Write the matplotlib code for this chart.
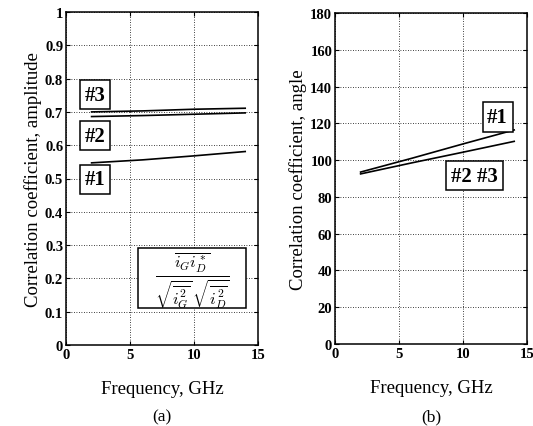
import numpy as np
import matplotlib
matplotlib.use("Agg")
import matplotlib.pyplot as plt
from matplotlib.patches import Rectangle

# panel (a): amplitude of the correlation coefficient
freq = [2, 6, 10, 14]
amp_1 = [0.547, 0.556, 0.568, 0.581]
amp_2 = [0.686, 0.689, 0.693, 0.697]
amp_3 = [0.700, 0.703, 0.708, 0.711]

# panel (b): angle of the correlation coefficient
ang_1 = [93.5, 101.0, 108.8, 116.4]
ang_23 = [92.5, 98.5, 104.3, 110.2]

plt.rcParams['font.family'] = ['Liberation Serif', 'DejaVu Serif']
plt.rcParams['mathtext.fontset'] = 'cm'

fig = plt.figure(figsize=(5.33, 4.27), dpi=100)
W, H = 533.0, 427.0
ax1 = fig.add_axes([66/W, 1-346/H, 192/W, 333/H])
ax2 = fig.add_axes([335/W, 1-345/H, 192/W, 331/H])


def style(ax, ymax, ystep, labels=None):
    ax.set_xlim(0, 15)
    ax.set_ylim(0, ymax)
    ax.set_xticks([0, 5, 10, 15])
    ax.set_yticks(np.arange(0, ymax + ystep/2, ystep))
    if labels is not None:
        ax.set_yticklabels(labels)
    ax.grid(True, color='black', linestyle=(0, (1, 2)), linewidth=0.6)
    ax.tick_params(direction='in', top=True, right=True, length=3, width=0.8,
                   labelsize=10.5, pad=2)
    for lab in ax.get_xticklabels() + ax.get_yticklabels():
        lab.set_fontweight('bold')
    for s in ax.spines.values():
        s.set_linewidth(1.1)
    ax.set_xlabel("Frequency, GHz", fontsize=13.5, labelpad=14)


box = dict(boxstyle='square,pad=0.22', fc='white', ec='black', lw=1.1)
tag = dict(fontsize=15, fontweight='bold', ha='center', va='center', bbox=box)

style(ax1, 1.0, 0.1, ['0', '0.1', '0.2', '0.3', '0.4', '0.5', '0.6', '0.7', '0.8', '0.9', '1'])
ax1.plot(freq, amp_1, color='black', lw=1.2)
ax1.plot(freq, amp_2, color='black', lw=1.2)
ax1.plot(freq, amp_3, color='black', lw=1.2)
ax1.set_ylabel("Correlation coefficient, amplitude", fontsize=13.5, labelpad=2)
ax1.text(2.27, 0.752, "#3", **tag)
ax1.text(2.27, 0.629, "#2", **tag)
ax1.text(2.27, 0.498, "#1", **tag)
ax1.add_patch(Rectangle((5.6, 0.11), 8.5, 0.18, fc='white', ec='black', lw=1.1, zorder=3))
ax1.text(9.85, 0.198,
         r"$\frac{\overline{i_G i_D^*}}{\sqrt{\overline{i_G^2}}\,\sqrt{\overline{i_D^2}}}$",
         fontsize=17, ha='center', va='center', zorder=4)
fig.text(162/W, 1-417/H, "(a)", fontsize=12.5, ha='center', va='center')

style(ax2, 180, 20)
ax2.plot(freq, ang_1, color='black', lw=1.2)
ax2.plot(freq, ang_23, color='black', lw=1.2)
ax2.set_ylabel("Correlation coefficient, angle", fontsize=13.5, labelpad=2)
ax2.text(12.7, 123.4, "#1", **tag)
ax2.text(10.9, 91.5, "#2 #3", **tag)
fig.text(431/W, 1-417/H, "(b)", fontsize=12.5, ha='center', va='center')

fig.savefig("out.png", dpi=100)
